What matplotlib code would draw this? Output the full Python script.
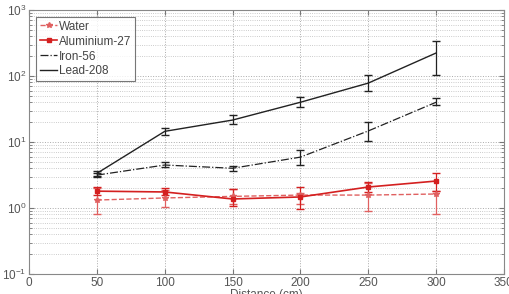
import matplotlib
matplotlib.use("Agg")
import matplotlib.pyplot as plt
import numpy as np

plt.rcParams['font.family'] = ['Liberation Sans', 'DejaVu Sans']

distance = [50, 100, 150, 200, 250, 300]

# values with (lower, upper) error bar ends
water = [1.32, 1.42, 1.50, 1.57, 1.57, 1.63]
water_lo = [0.82, 1.04, 1.15, 1.15, 0.90, 0.81]
water_hi = [2.00, 1.87, 1.95, 1.70, 2.40, 1.80]

alu = [1.80, 1.75, 1.37, 1.47, 2.08, 2.56]
alu_lo = [1.55, 1.57, 1.07, 0.97, 1.75, 1.80]
alu_hi = [2.08, 2.00, 1.94, 2.08, 2.48, 3.40]

iron = [3.15, 4.48, 4.00, 5.90, 14.7, 40.0]
iron_lo = [2.95, 4.20, 3.70, 4.50, 10.4, 36.0]
iron_hi = [3.35, 5.00, 4.40, 7.60, 20.0, 46.0]

lead = [3.35, 14.5, 21.5, 40.0, 78.0, 223.0]
lead_lo = [3.05, 12.8, 18.8, 34.0, 59.0, 103.0]
lead_hi = [3.60, 16.3, 25.6, 48.0, 103.0, 339.0]

labels = ["Water", "Aluminium-27", "Iron-56", "Lead-208"]


def yerr(v, lo, hi):
    v = np.array(v)
    return [v - np.array(lo), np.array(hi) - v]


fig = plt.figure(figsize=(5.1, 2.94), dpi=100)
ax = fig.add_axes([0.057, 0.068, 0.931, 0.898])

e1 = ax.errorbar(distance, water, yerr=yerr(water, water_lo, water_hi), color='#e06060',
                 ls='--', lw=1.0, marker='*', ms=4, capsize=3, elinewidth=0.9)
e2 = ax.errorbar(distance, alu, yerr=yerr(alu, alu_lo, alu_hi), color='#d42020',
                 ls='-', lw=1.2, marker='s', ms=3, capsize=3, elinewidth=0.9)
e3 = ax.errorbar(distance, iron, yerr=yerr(iron, iron_lo, iron_hi), color='#222222',
                 ls='-.', lw=0.9, capsize=3, elinewidth=0.9)
e4 = ax.errorbar(distance, lead, yerr=yerr(lead, lead_lo, lead_hi), color='#222222',
                 ls='-', lw=1.0, capsize=3, elinewidth=0.9)

ax.set_yscale('log')
ax.set_xlim(0, 350)
ax.set_ylim(0.1, 1000)
ax.set_xticks(np.arange(0, 351, 50))
ax.grid(True, which='major', ls=':', color='#aaaaaa', lw=0.7)
ax.grid(True, which='minor', axis='y', ls=':', color='#bbbbbb', lw=0.6)
ax.tick_params(which='both', direction='in', labelsize=8.5, labelcolor='#555555',
               color='#777777', top=True, right=True, pad=2)
for s in ax.spines.values():
    s.set_color('#888888')

ax.set_xlabel("Distance (cm)", fontsize=8.5, color='#555555', labelpad=0)
ax.set_ylabel("Maximised Ratio", fontsize=8.5, color='#555555', labelpad=1)

handles = [e[0] for e in (e1, e2, e3, e4)]
leg = ax.legend(handles, labels, loc='upper left', fontsize=8.5, frameon=True, fancybox=False,
                handlelength=1.5, handletextpad=0.1, borderpad=0.3, labelspacing=0.25,
                borderaxespad=0.6)
leg.get_frame().set_edgecolor('#555555')
leg.get_frame().set_linewidth(0.8)
for t in leg.get_texts():
    t.set_color('#444444')

fig.savefig("out.png", dpi=100)
